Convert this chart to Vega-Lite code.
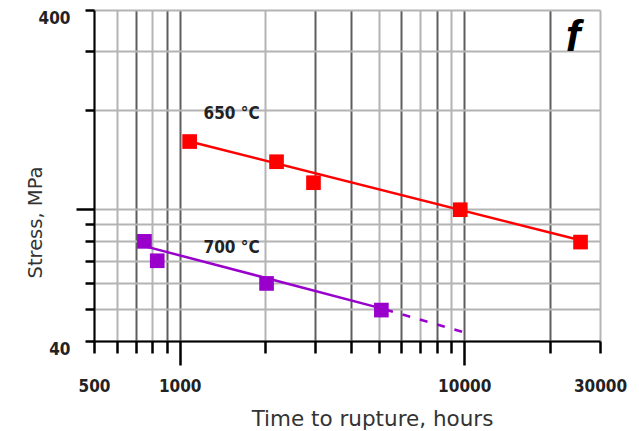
{
  "$schema": "https://vega.github.io/schema/vega-lite/v6.json",
  "width": 506,
  "height": 331,
  "autosize": "none",
  "padding": {"left": 94, "top": 10, "right": 39, "bottom": 90},
  "background": "white",
  "config": {"view": {"stroke": null}},
  "datasets": {
    "points": [
      {"series": "650 °C", "time": 1084, "stress": 160.2},
      {"series": "650 °C", "time": 2190, "stress": 139.2},
      {"series": "650 °C", "time": 2953, "stress": 120.3},
      {"series": "650 °C", "time": 9683, "stress": 99.7},
      {"series": "650 °C", "time": 25630, "stress": 79.6},
      {"series": "700 °C", "time": 752, "stress": 80.0},
      {"series": "700 °C", "time": 834, "stress": 69.9},
      {"series": "700 °C", "time": 2020, "stress": 59.7},
      {"series": "700 °C", "time": 5115, "stress": 49.6}
    ],
    "fits": [
      {"series": "650 °C", "style": "solid", "time": 1084, "stress": 160.2},
      {"series": "650 °C", "style": "solid", "time": 25630, "stress": 80.6},
      {"series": "700 °C", "style": "solid", "time": 752, "stress": 77.4},
      {"series": "700 °C", "style": "solid", "time": 5115, "stress": 50.2},
      {"series": "700 °C", "style": "dashed", "time": 5115, "stress": 50.2},
      {"series": "700 °C", "style": "dashed", "time": 9900, "stress": 42.6}
    ],
    "labels": [
      {"text": "650 °C", "time": 1522, "stress": 187.4},
      {"text": "700 °C", "time": 1522, "stress": 73.8}
    ],
    "panel": [
      {"text": "f", "time": 24130, "stress": 300}
    ]
  },
  "layer": [
    {
      "data": {"name": "fits"},
      "transform": [{"filter": "datum.style == 'solid'"}],
      "mark": {"type": "line", "strokeWidth": 2.5},
      "encoding": {
        "x": {
          "field": "time",
          "type": "quantitative",
          "scale": {"type": "log", "domain": [500, 30000], "nice": false},
          "axis": {
            "values": [500, 600, 700, 800, 900, 1000, 2000, 3000, 4000, 5000, 6000, 7000, 8000, 9000, 10000, 20000, 30000],
            "format": "d",
            "labelExpr": "(datum.value == 500 || datum.value == 1000 || datum.value == 10000 || datum.value == 30000) ? datum.label : ''",
            "grid": true,
            "gridColor": {"condition": {"test": "datum.value == 700 || datum.value == 900 || datum.value == 1000 || datum.value == 3000 || datum.value == 4000 || datum.value == 6000 || datum.value == 8000 || datum.value == 10000 || datum.value == 20000", "value": "#5e5e5e"}, "value": "#b4b4b4"},
            "gridWidth": 2,
            "domainColor": "#000000",
            "domainWidth": 2,
            "tickColor": "#000000",
            "tickWidth": 2.5,
            "tickSize": {"condition": {"test": "datum.value == 1000 || datum.value == 10000", "value": 24}, "value": 12},
            "labelPadding": {"condition": {"test": "datum.value == 1000 || datum.value == 10000", "value": 13}, "value": 25},
            "labelBaseline": "top",
            "labelFlush": false,
            "labelOverlap": false,
            "labelFont": "DejaVu Sans Condensed, DejaVu Sans, sans-serif",
            "labelFontSize": 17,
            "labelFontWeight": "bold",
            "labelColor": "#222222",
            "title": "Time to rupture, hours",
            "titleFont": "DejaVu Sans",
            "titleFontSize": 21.5,
            "titleFontWeight": "normal",
            "titleColor": "#333333",
            "titleX": 278,
            "titleY": 84,
            "titleAlign": "center",
            "titleBaseline": "alphabetic"
          }
        },
        "y": {
          "field": "stress",
          "type": "quantitative",
          "scale": {"type": "log", "domain": [40, 400], "nice": false},
          "axis": {
            "values": [40, 50, 60, 70, 80, 90, 100, 200, 300, 400],
            "format": "d",
            "labelExpr": "(datum.value == 40 || datum.value == 400) ? datum.label : ''",
            "grid": true,
            "gridColor": "#b4b4b4",
            "gridWidth": 2,
            "domainColor": "#000000",
            "domainWidth": 2,
            "tickColor": "#000000",
            "tickWidth": 2.5,
            "tickSize": {"condition": {"test": "datum.value == 100", "value": 18}, "value": 9},
            "labelPadding": 15,
            "labelOffset": 8,
            "labelFlush": false,
            "labelOverlap": false,
            "labelFont": "DejaVu Sans Condensed, DejaVu Sans, sans-serif",
            "labelFontSize": 17,
            "labelFontWeight": "bold",
            "labelColor": "#222222",
            "title": "Stress, MPa",
            "titleFont": "DejaVu Sans",
            "titleFontSize": 19.5,
            "titleFontWeight": "normal",
            "titleColor": "#333333",
            "titleAngle": -90,
            "titleX": -53,
            "titleY": 212,
            "titleAlign": "center",
            "titleBaseline": "alphabetic"
          }
        },
        "color": {"field": "series", "type": "nominal", "scale": {"domain": ["650 °C", "700 °C"], "range": ["#ff0000", "#9900cc"]}, "legend": null},
        "detail": {"field": "series"}
      }
    },
    {
      "data": {"name": "fits"},
      "transform": [{"filter": "datum.style == 'dashed'"}],
      "mark": {"type": "line", "strokeWidth": 2.5, "strokeDash": [8, 10], "strokeDashOffset": -4},
      "encoding": {
        "x": {"field": "time", "type": "quantitative"},
        "y": {"field": "stress", "type": "quantitative"},
        "color": {"field": "series", "type": "nominal", "legend": null}
      }
    },
    {
      "data": {"name": "points"},
      "mark": {"type": "point", "shape": "square", "filled": true, "size": 215, "opacity": 1},
      "encoding": {
        "x": {"field": "time", "type": "quantitative"},
        "y": {"field": "stress", "type": "quantitative"},
        "color": {"field": "series", "type": "nominal", "legend": null}
      }
    },
    {
      "data": {"name": "labels"},
      "mark": {"type": "text", "align": "center", "baseline": "alphabetic", "font": "DejaVu Sans Condensed, DejaVu Sans, sans-serif", "fontSize": 17, "fontWeight": "bold", "color": "#222222"},
      "encoding": {
        "x": {"field": "time", "type": "quantitative"},
        "y": {"field": "stress", "type": "quantitative"},
        "text": {"field": "text"}
      }
    },
    {
      "data": {"name": "panel"},
      "mark": {"type": "text", "align": "center", "baseline": "alphabetic", "font": "Liberation Sans", "fontSize": 44, "fontWeight": "bold", "fontStyle": "italic", "color": "#000000"},
      "encoding": {
        "x": {"field": "time", "type": "quantitative"},
        "y": {"field": "stress", "type": "quantitative"},
        "text": {"field": "text"}
      }
    }
  ]
}
